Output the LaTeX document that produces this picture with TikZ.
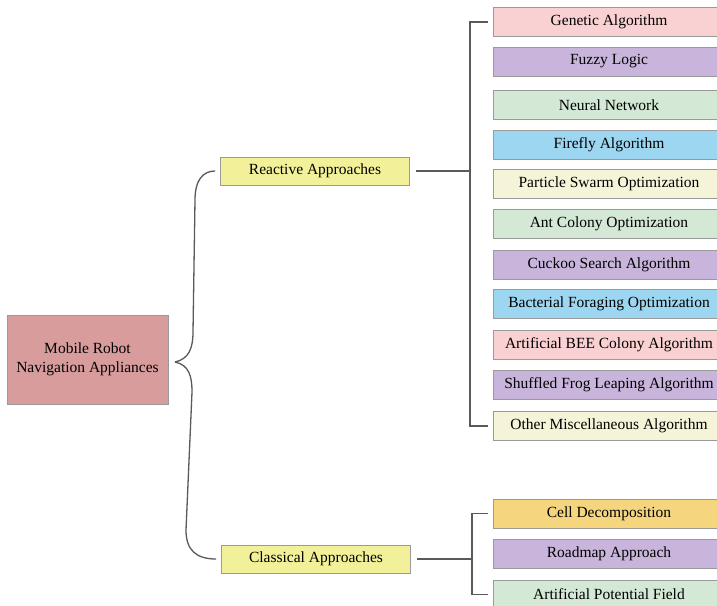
\documentclass[tikz,border=0pt]{standalone}
\usepackage{fontspec}
\setmainfont{Liberation Serif}
\definecolor{mainc}{HTML}{D99C9D}
\definecolor{yelc}{HTML}{F2F19A}
\definecolor{pinkc}{HTML}{FAD1D3}
\definecolor{lavc}{HTML}{C9B5DB}
\definecolor{grnc}{HTML}{D3E8D5}
\definecolor{bluc}{HTML}{9CD6F0}
\definecolor{crmc}{HTML}{F5F4D8}
\definecolor{orgc}{HTML}{F5D67F}
\definecolor{bordc}{HTML}{9A9A9A}
\definecolor{linec}{HTML}{5A5A5A}
\begin{document}
\begin{tikzpicture}[x=1pt,y=-1pt,
  box/.style={draw=bordc, line width=0.9pt, inner sep=0pt, font=\fontsize{15.5}{18.5}\selectfont},
  leaf/.style={box, minimum width=232pt, minimum height=29pt},
  cat/.style={box, fill=yelc, minimum width=189pt, minimum height=28pt},
  conn/.style={draw=linec, line width=1.3pt}]
\useasboundingbox (0,0) rectangle (717,605);
\clip (0,0) rectangle (717,605);
\fill[white] (0,0) rectangle (717,605);

\node[box, fill=mainc, minimum width=161pt, minimum height=89pt, align=center] (main) at (87.5,359.5) {Mobile Robot\\Navigation Appliances};
\node[cat] (re) at (315,171) {Reactive Approaches};
\node[cat] (cl) at (316,559) {Classical Approaches};

\node[leaf, fill=pinkc] (ga) at (609,22) {Genetic Algorithm};
\node[leaf, fill=lavc] (fl) at (609,61.5) {Fuzzy Logic};
\node[leaf, fill=grnc] (nn) at (609,105) {Neural Network};
\node[leaf, fill=bluc] (fa) at (609,144.5) {Firefly Algorithm};
\node[leaf, fill=crmc] (pso) at (609,184) {Particle Swarm Optimization};
\node[leaf, fill=grnc] (aco) at (609,223.5) {Ant Colony Optimization};
\node[leaf, fill=lavc] (cs) at (609,265) {Cuckoo Search Algorithm};
\node[leaf, fill=bluc] (bfo) at (609,304) {Bacterial Foraging Optimization};
\node[leaf, fill=pinkc] (abc) at (609,344.5) {Artificial BEE Colony Algorithm};
\node[leaf, fill=lavc] (sfla) at (609,384.5) {Shuffled Frog Leaping Algorithm};
\node[leaf, fill=crmc] (oma) at (609,426) {Other Miscellaneous Algorithm};

\node[leaf, fill=orgc] (cd) at (609,513.5) {Cell Decomposition};
\node[leaf, fill=lavc] (ra) at (609,553.5) {Roadmap Approach};
\node[leaf, fill=grnc] (apf) at (609,594.5) {Artificial Potential Field};

\coordinate (tip) at (175,362);
\draw[conn] (tip) .. controls (189,359) and (193,348) .. (193,332) -- (195,200) .. controls (195,180) and (203,171) .. ([xshift=-5pt]re.west);
\draw[conn] (tip) .. controls (189,365) and (192,376) .. (192,392) -- (186,530) .. controls (186,550) and (196,559) .. ([xshift=-5pt]cl.west);

\coordinate (rbx) at (470,0);
\draw[conn] ([xshift=6pt]re.east) -- (re.east -| rbx);
\draw[conn] ([xshift=-5pt]ga.west) -- (ga.west -| rbx) -- (oma.west -| rbx) -- ([xshift=-5pt]oma.west);

\coordinate (cbx) at (472,0);
\draw[conn] ([xshift=6pt]cl.east) -- (cl.east -| cbx);
\draw[conn] ([xshift=-5pt]cd.west) -- (cd.west -| cbx) -- (apf.west -| cbx) -- ([xshift=-5pt]apf.west);
\end{tikzpicture}
\end{document}
